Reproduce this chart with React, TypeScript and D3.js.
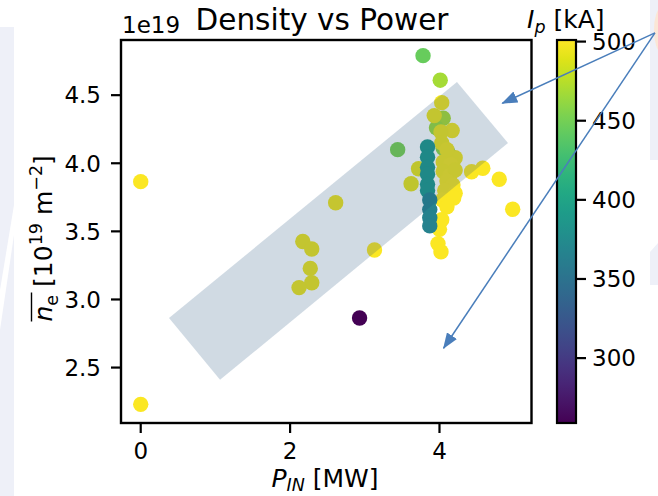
import React from 'react';
import * as d3 from 'd3';

// ---- data (P_IN [MW], line-averaged density [1e19 m^-2], Ip [kA]) ----
const pinMW = [
  4.12, 4.05, 3.96, 4.05,
  4.03, 3.93, 4.17, 4.02, 4.03, 4.21, 4.05, 4.10, 4.15, 4.05, 4.14, 3.72, 4.21, 3.62,
  4.10, 4.18, 4.07, 4.21, 4.04, 4.19, 4.10, 4.03, 4.00, 3.98, 4.02,
  3.84, 3.84, 3.84, 3.84, 3.84, 3.84,
  3.87, 3.87, 3.87, 3.87,
  0.0, 0.0, 3.78, 4.01, 3.44, 2.61, 2.17, 2.29, 2.27, 2.29, 2.12, 3.13, 2.93,
  4.43, 4.58, 4.80, 4.98,
];
const neVals = [
  4.07, 4.33, 4.26, 4.11,
  4.445, 4.35, 4.24, 4.23, 4.15, 4.04, 4.01, 4.10, 3.99, 3.94, 3.91, 3.96, 3.95, 3.85,
  3.87, 3.84, 3.80, 3.78, 3.73, 3.745, 3.68, 3.585, 3.515, 3.41, 3.35,
  4.12, 4.045, 3.97, 3.92, 3.845, 3.80,
  3.73, 3.66, 3.60, 3.54,
  3.865, 2.23, 4.79, 4.61, 4.10, 3.71, 3.426, 3.371, 3.228, 3.123, 3.087, 3.363, 2.864,
  3.938, 3.963, 3.883, 3.662,
];
const ipKA = [
  400, 470, 465, 460,
  497, 495, 497, 495, 495, 497, 497, 497, 498, 497, 498, 493, 497, 493,
  498, 499, 499, 500, 500, 500, 500, 500, 500, 500, 500,
  387, 387, 387, 387, 387, 387,
  365, 365, 365, 365,
  500, 500, 445, 468, 452, 496, 495, 495, 495, 495, 495, 500, 259,
  500, 500, 500, 500,
];

const xTicks = [0, 2, 4];
const yTicks = [2.5, 3.0, 3.5, 4.0, 4.5];
const cbTicks = [300, 350, 400, 450, 500];

// shaded band (data coordinates)
const bandX = [0.379, 1.062, 4.917, 4.234];
const bandY = [2.864, 2.41, 4.149, 4.597];
// annotation arrows (data coordinates, origin outside axes)
const arrowFrom = [6.885, 4.957];
const arrowTipX = [4.841, 4.055];
const arrowTipY = [4.4405, 2.642];

const FONT = 'DejaVu Sans';

export default function App() {
  const W = 658, H = 496;
  const L = 121, R = 531.5, T = 40, B = 423;
  const x = d3.scaleLinear().domain([-0.264, 5.232]).range([L, R]);
  const y = d3.scaleLinear().domain([2.093, 4.905]).range([B, T]);
  const vmin = 259, vmax = 501;
  const color = d3.scaleSequential(d3.interpolateViridis).domain([vmin, vmax]);
  const cbX0 = 557, cbX1 = 576;
  const cy = d3.scaleLinear().domain([vmin, vmax]).range([B, T]);
  const stops = d3.range(0, 1.0001, 0.05);
  const bandPath = d3.line<number>()
    .x((_, i) => x(bandX[i]))
    .y((_, i) => y(bandY[i]))(bandX.map((_, i) => i)) + 'Z';
  const fs = 23;
  const lf = 25;
  const arrowColor = '#4a7ebb';

  return (
    <svg width={W} height={H} style={{ position: 'absolute', left: 0, top: 0, background: '#fff' }} fontFamily={FONT}>
      <defs>
        <linearGradient id="vir" x1="0" y1="1" x2="0" y2="0">
          {stops.map((s) => (
            <stop key={s} offset={s} stopColor={d3.interpolateViridis(s)} />
          ))}
        </linearGradient>
        <marker id="ah" markerUnits="userSpaceOnUse" markerWidth={16} markerHeight={12}
          viewBox="0 0 16 12" refX={15} refY={6} orient="auto">
          <path d="M0,0 L16,6 L0,12 Z" fill={arrowColor} />
        </marker>
      </defs>
      <rect width={W} height={H} fill="#fff" />
      {/* faint slide background shapes */}
      <polygon points="0,27 14,27 14,205 0,290" fill="#eef0f8" />
      <polygon points="0,330 14,235 14,496 0,496" fill="#eef0f8" />
      <rect x={650} y={0} width={8} height={160} fill="#eef0f8" />
      <polygon points="650,252 658,243 658,285 650,285" fill="#eef0f8" />
      <ellipse cx={661} cy={30} rx={7} ry={22} fill="#fbe6d6" />

      {/* points */}
      {pinMW.map((v, i) => (
        <circle key={i} cx={x(v)} cy={y(neVals[i])} r={7.7} fill={color(ipKA[i])} />
      ))}

      {/* translucent band */}
      <path d={bandPath} fill="#1f4e79" fillOpacity={0.21} />

      {/* frame */}
      <rect x={L} y={T} width={R - L} height={B - T} fill="none" stroke="#000" strokeWidth={2.4} />

      {/* x ticks */}
      {xTicks.map((t) => (
        <g key={t}>
          <line x1={x(t)} x2={x(t)} y1={B} y2={B + 10} stroke="#000" strokeWidth={2.2} />
          <text x={x(t)} y={459} textAnchor="middle" fontSize={fs}>{t}</text>
        </g>
      ))}
      {/* y ticks */}
      {yTicks.map((t) => (
        <g key={t}>
          <line x1={L - 10} x2={L} y1={y(t)} y2={y(t)} stroke="#000" strokeWidth={2.2} />
          <text x={101} y={y(t)} dy="0.36em" textAnchor="end" fontSize={fs}>{t.toFixed(1)}</text>
        </g>
      ))}
      <text x={122} y={33} fontSize={fs}>1e19</text>

      {/* title */}
      <text x={322} y={29.5} textAnchor="middle" fontSize={29.5}>Density vs Power</text>

      {/* x label */}
      <text x={325} y={486.5} textAnchor="middle" fontSize={lf}>
        <tspan fontStyle="italic">P</tspan>
        <tspan fontStyle="italic" fontSize={lf * 0.7} dy={4}>IN</tspan>
        <tspan dy={-4}> [MW]</tspan>
      </text>

      {/* y label */}
      <g transform="translate(52,237.5) rotate(-90)">
        <text x={-84} y={0} fontSize={lf}>
          <tspan fontStyle="italic">n</tspan>
          <tspan fontSize={lf * 0.7} dy={5.5}>e</tspan>
          <tspan dy={-5.5}> [10</tspan>
          <tspan fontSize={lf * 0.7} dy={-10}>19</tspan>
          <tspan dy={10}> m</tspan>
          <tspan fontSize={lf * 0.7} dy={-10}>−2</tspan>
          <tspan dy={10}>]</tspan>
        </text>
        <line x1={-84} x2={-55} y1={-20.5} y2={-20.5} stroke="#000" strokeWidth={1.4} />
      </g>

      {/* colorbar */}
      <rect x={cbX0} y={T} width={cbX1 - cbX0} height={B - T} fill="url(#vir)" />
      <rect x={cbX0} y={T} width={cbX1 - cbX0} height={B - T} fill="none" stroke="#000" strokeWidth={2.2} />
      {cbTicks.map((t) => (
        <g key={t}>
          <line x1={cbX1} x2={cbX1 + 10} y1={cy(t)} y2={cy(t)} stroke="#000" strokeWidth={2.2} />
          <text x={592} y={cy(t)} dy="0.36em" fontSize={fs}>{t}</text>
        </g>
      ))}
      <text x={527} y={28} fontSize={lf}>
        <tspan fontStyle="italic">I</tspan>
        <tspan fontStyle="italic" fontSize={lf * 0.7} dy={5}>p</tspan>
        <tspan dy={-5}> [kA]</tspan>
      </text>

      {/* arrows */}
      {arrowTipX.map((tx, i) => (
        <line key={i} x1={x(arrowFrom[0])} y1={y(arrowFrom[1])} x2={x(tx)} y2={y(arrowTipY[i])}
          stroke={arrowColor} strokeWidth={1.5} markerEnd="url(#ah)" />
      ))}
    </svg>
  );
}
